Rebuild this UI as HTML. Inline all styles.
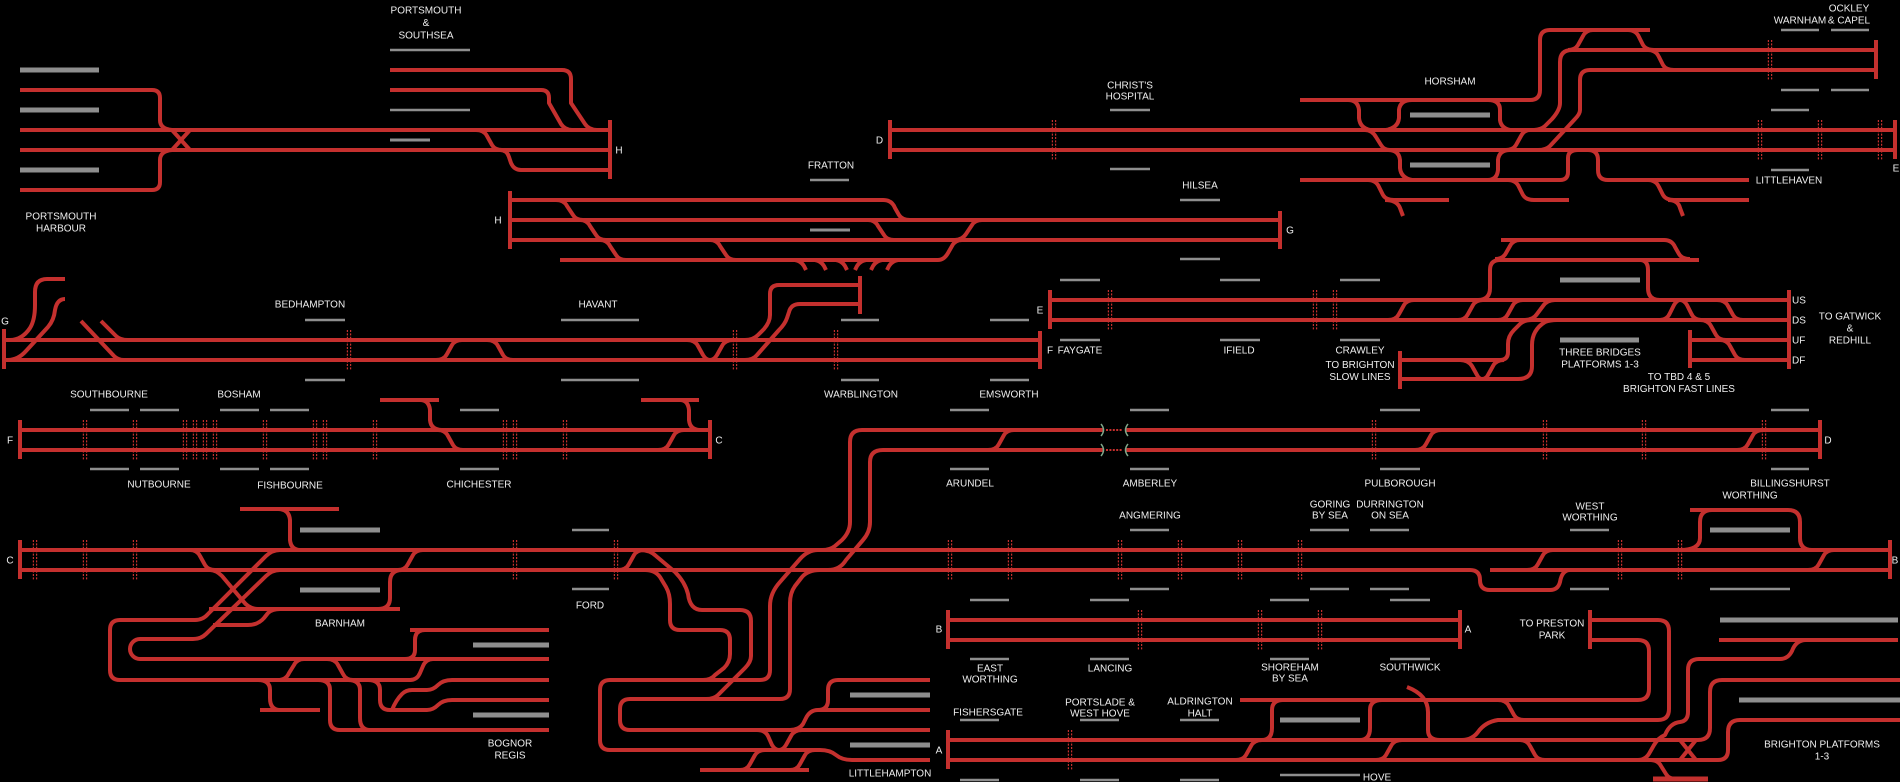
<!DOCTYPE html>
<html><head><meta charset="utf-8"><style>
html,body{margin:0;padding:0;background:#000;}
svg{display:block}
.r{fill:none;stroke:#c4302e;stroke-width:4;stroke-linejoin:round}
.g{fill:none;stroke:#8e8e8e;stroke-width:5}
.s{fill:none;stroke:#8e8e8e;stroke-width:2.5}
.w{fill:none;stroke:#8e8e8e;stroke-width:3}
.m{fill:none;stroke:#c4302e;stroke-width:1.2;stroke-dasharray:2 1.4}
.gr{fill:none;stroke:#7fa88a;stroke-width:1.5}
text{font-family:"Liberation Sans",sans-serif;font-size:10px;fill:#eee;text-anchor:middle}
.l{text-anchor:start}
</style></head><body>
<svg width="1900" height="782" viewBox="0 0 1900 782" xmlns="http://www.w3.org/2000/svg">
<rect width="1900" height="782" fill="#000"/>
<defs><path id="dm" class="m" d="M-1.6,0V40M1.6,0V40"/></defs>

<!-- ===== Portsmouth ===== -->
<path class="g" d="M20,70H99M20,110H99M20,170H99"/>
<path class="r" d="M20,90H152Q160,90 160,98V120Q160,129 172,130"/>
<path class="r" d="M20,130H610M20,150H610"/>
<path class="r" d="M20,190H152Q160,190 160,182V160Q160,151 172,150"/>
<path class="r" d="M172,130L190,150M172,150L190,130"/>
<path class="s" d="M390,50H470M390,110H470"/>
<path class="w" d="M390,140H430"/>
<path class="r" d="M390,70H562Q571,70 571,79V103L585,124Q589,130 597,130"/>
<path class="r" d="M390,90H541Q549,90 549,98V103L561,124Q565,130 572,130"/>
<path class="r" d="M476,130Q484,130 487,136L492,145Q495,150 502,150"/>
<path class="r" d="M500,150Q507,150 509,157L511,163Q514,170 521,170H610"/>
<path class="r" d="M610,120V179"/>
<text x="61" y="219.5">PORTSMOUTH</text><text x="61" y="231.5">HARBOUR</text>
<text x="426" y="13.5">PORTSMOUTH</text><text x="426" y="26">&amp;</text><text x="426" y="38.5">SOUTHSEA</text>
<text x="619" y="153.5">H</text>

<!-- ===== D section ===== -->
<path class="r" d="M890,120V159M890,130H1895M890,150H1895M1895,120V159"/>
<text x="879.5" y="143.5">D</text>
<text x="1896" y="171.5">E</text>
<use href="#dm" x="1054" y="120"/><use href="#dm" x="1760" y="120"/><use href="#dm" x="1820" y="120"/><use href="#dm" x="1880" y="120"/>
<path class="s" d="M1110,110H1150M1110,169H1150M1771,110H1809M1771,170H1809"/>
<text x="1130" y="88.5">CHRIST'S</text><text x="1130" y="99.5">HOSPITAL</text>
<text x="1789" y="183.5">LITTLEHAVEN</text>
<text x="831" y="168.5">FRATTON</text>
<path class="s" d="M810,180H849"/>

<!-- Horsham -->
<path class="r" d="M1300,100H1530Q1540,100 1540,90V40Q1540,30 1550,30H1650"/>
<path class="r" d="M1348,100Q1358,100 1359,110V118Q1360,128 1370,130"/>
<path class="r" d="M1412,100Q1400,100 1399,110V118Q1398,128 1386,130"/>
<path class="r" d="M1488,100Q1500,100 1500,110V120Q1501,128 1510,130"/>
<path class="g" d="M1410,115H1490M1410,165H1490"/>
<path class="r" d="M1365,130Q1372,130 1376,137L1381,145Q1384,150 1390,150"/>
<path class="r" d="M1388,150Q1399,150 1400,160V168Q1401,178 1412,180"/>
<path class="r" d="M1300,180H1560Q1568,180 1568,172V158Q1568,150 1578,150"/>
<path class="r" d="M1488,180Q1497,180 1498,170V160Q1499,150 1510,150"/>
<path class="r" d="M1588,150Q1598,150 1598,160V170Q1598,180 1608,180H1749"/>
<path class="r" d="M1368,180Q1376,180 1379,187L1383,195Q1386,200 1394,200H1449"/>
<path class="r" d="M1385,200Q1397,200 1400,208L1403,216"/>
<path class="r" d="M1508,180Q1516,180 1519,187L1523,195Q1526,200 1534,200H1569"/>
<path class="r" d="M1648,180Q1656,180 1659,187L1663,195Q1666,200 1674,200H1749"/>
<path class="r" d="M1668,200Q1678,200 1680,208L1683,216"/>
<path class="r" d="M1877,50H1572Q1560,50 1560,62V103Q1560,110 1552,119L1545,126Q1541,130 1532,130"/>
<path class="r" d="M1877,70H1590Q1580,70 1580,80V110Q1580,114 1575,119L1550,146Q1546,150 1538,150"/>
<path class="r" d="M1530,130Q1524,130 1521,136L1516,145Q1513,150 1506,150"/>
<path class="r" d="M1593,30Q1586,30 1583,36L1578,45Q1575,50 1568,50"/>
<path class="r" d="M1628,30Q1636,30 1639,37L1643,45Q1646,50 1654,50"/>
<path class="r" d="M1648,50Q1656,50 1659,57L1663,65Q1666,70 1674,70"/>
<path class="r" d="M1876,40V79"/>
<use href="#dm" x="1770" y="40"/>
<path class="s" d="M1781,30H1819M1831,30H1869M1781,90H1819M1831,90H1869"/>
<text x="1450" y="84.5">HORSHAM</text>
<text x="1800" y="23.5">WARNHAM</text><text x="1849" y="11.5">OCKLEY</text><text x="1849" y="23.5">&amp; CAPEL</text>

<!-- ===== H -> G section ===== -->
<path class="r" d="M510,191V249"/>
<text x="498" y="223.5">H</text>
<path class="r" d="M510,200H883Q892,200 895,208L899,215Q902,220 910,220"/>
<path class="r" d="M510,220H1280M510,240H1280M1280,211V249"/>
<path class="r" d="M560,260H938Q944,260 948,253L952,246Q955,240 962,240"/>
<path class="r" d="M955,240Q962,240 966,234L972,225Q975,220 982,220"/>
<path class="r" d="M556,200Q564,200 567,206L573,215Q576,220 583,220"/>
<path class="r" d="M580,220Q587,220 590,226L596,235Q599,240 606,240"/>
<path class="r" d="M600,240Q607,240 610,246L616,255Q619,260 626,260"/>
<path class="r" d="M710,240Q717,240 720,246L726,255Q729,260 736,260"/>
<path class="r" d="M868,220Q875,220 878,226L884,235Q887,240 894,240"/>
<path class="r" d="M795,260Q801,261 804,266L806,270M815,260Q821,261 824,266L826,270M836,260Q842,261 845,266L847,270M866,260Q860,261 857,266L855,270M882,260Q876,261 873,266L871,270M898,260Q892,261 889,266L887,270"/>
<path class="w" d="M810,230H850"/>
<text x="1290" y="233.5">G</text>
<text x="1200" y="188.5">HILSEA</text>
<path class="s" d="M1180,200H1220M1180,259H1220"/>

<!-- ===== G -> F section ===== -->
<path class="r" d="M4,329V369M4,340H1040M4,360H1040M1040,331V369"/>
<text x="5" y="324.5">G</text>
<text x="1050" y="353.5">F</text>
<path class="r" d="M10,340Q22,340 30,328Q35,320 35,305V292Q35,279 47,279H65"/>
<path class="r" d="M8,360Q18,360 26,351L48,327Q54,320 55,310Q57,299 65,299"/>
<path class="r" d="M81,321L98,339L114,356Q118,360 124,360"/>
<path class="r" d="M101,321L116,336Q120,340 128,340"/>
<path class="r" d="M436,360Q444,360 447,354L452,345Q455,340 462,340"/>
<path class="r" d="M487,340Q495,340 498,346L503,355Q506,360 513,360"/>
<path class="r" d="M687,340Q695,340 698,346L703,355Q706,360 710,360Q714,360 717,355L722,346Q725,340 733,340"/>
<path class="r" d="M860,285H779Q770,285 770,294V315Q770,322 764,329L758,335Q753,340 745,340"/>
<path class="r" d="M860,304H800Q791,304 789,312L787,318Q785,324 779,330L757,355Q753,360 745,360"/>
<path class="r" d="M860,276V314"/>
<use href="#dm" x="349" y="330"/><use href="#dm" x="735" y="330"/><use href="#dm" x="836" y="330"/>
<path class="s" d="M305,320H345M305,380H345M561,320H639M561,380H639M841,320H879M841,380H879M990,320H1029M990,380H1029"/>
<text x="310" y="307.5">BEDHAMPTON</text>
<text x="598" y="307.5">HAVANT</text>
<text x="861" y="397.5">WARBLINGTON</text>
<text x="1009" y="397.5">EMSWORTH</text>

<!-- ===== E section / Three Bridges ===== -->
<path class="r" d="M1050,290V329M1050,300H1789M1050,320H1789M1789,290V369"/>
<text x="1040" y="313.5">E</text>
<use href="#dm" x="1110" y="290"/><use href="#dm" x="1315" y="290"/><use href="#dm" x="1335" y="290"/>
<path class="s" d="M1060,280H1100M1220,280H1260M1340,280H1380M1060,340H1100M1220,340H1260M1340,340H1380"/>
<text x="1080" y="353.5">FAYGATE</text>
<text x="1239" y="353.5">IFIELD</text>
<text x="1360" y="353.5">CRAWLEY</text>
<text x="1360" y="368">TO BRIGHTON</text><text x="1360" y="380">SLOW LINES</text>
<path class="r" d="M1388,320Q1396,320 1399,314L1404,305Q1407,300 1414,300"/>
<path class="r" d="M1400,351V389"/>
<path class="r" d="M1400,360H1500Q1508,360 1508,352V344Q1508,336 1514,330L1520,324Q1524,320 1532,320"/>
<path class="r" d="M1400,379H1518Q1532,379 1532,366V345Q1532,330 1545,322Q1550,320 1557,320"/>
<path class="r" d="M1458,320Q1465,320 1468,314L1473,305Q1476,300 1483,300"/>
<path class="r" d="M1498,320Q1505,320 1508,314L1513,305Q1516,300 1523,300"/>
<path class="r" d="M1525,320Q1533,320 1537,314L1543,306Q1547,300 1555,300"/>
<path class="r" d="M1460,360Q1468,360 1472,366L1477,375Q1479,379 1482,379Q1486,379 1488,375L1493,366Q1496,360 1504,360"/>
<path class="r" d="M1660,320Q1667,320 1670,313L1674,305Q1677,300 1680,300Q1684,300 1687,305L1691,313Q1694,320 1701,320"/>
<path class="r" d="M1717,300Q1725,300 1728,306L1733,315Q1736,320 1743,320"/>
<path class="r" d="M1700,320Q1708,320 1711,326L1716,335Q1719,340 1726,340"/>
<path class="r" d="M1720,340Q1727,340 1730,346L1735,355Q1738,360 1745,360"/>
<path class="r" d="M1690,340H1789M1690,360H1789M1690,330V368"/>
<path class="r" d="M1501,240H1664Q1672,240 1675,247L1679,254Q1682,259 1690,259"/>
<path class="r" d="M1495,259Q1503,259 1506,253L1510,246Q1513,240 1520,240"/>
<path class="r" d="M1478,300Q1490,300 1490,288V270Q1490,260 1500,260H1699"/>
<path class="r" d="M1640,260Q1648,260 1648,270V288Q1648,300 1660,300"/>
<path class="g" d="M1560,280H1640M1560,340H1639"/>
<text class="l" x="1792" y="303.5">US</text>
<text class="l" x="1792" y="323.5">DS</text>
<text class="l" x="1792" y="343.5">UF</text>
<text class="l" x="1792" y="363.5">DF</text>
<text x="1850" y="319.5">TO GATWICK</text><text x="1850" y="331.5">&amp;</text><text x="1850" y="343.5">REDHILL</text>
<text x="1600" y="355.5">THREE BRIDGES</text><text x="1600" y="367.5">PLATFORMS 1-3</text>
<text x="1679" y="380">TO TBD 4 &amp; 5</text><text x="1679" y="392">BRIGHTON FAST LINES</text>

<!-- ===== F -> C section ===== -->
<path class="r" d="M20,420V459M20,430H710M20,450H710M710,420V459"/>
<text x="10" y="443.5">F</text>
<text x="719" y="443.5">C</text>
<use href="#dm" x="85" y="420"/><use href="#dm" x="135" y="420"/><use href="#dm" x="185" y="420"/><use href="#dm" x="195" y="420"/><use href="#dm" x="205" y="420"/><use href="#dm" x="215" y="420"/><use href="#dm" x="265" y="420"/><use href="#dm" x="315" y="420"/><use href="#dm" x="325" y="420"/><use href="#dm" x="375" y="420"/><use href="#dm" x="505" y="420"/><use href="#dm" x="515" y="420"/><use href="#dm" x="565" y="420"/>
<path class="s" d="M90,410H129M140,410H179M220,410H259M270,410H309M460,410H499M90,469H129M140,469H179M220,469H259M270,469H309M460,469H499"/>
<path class="r" d="M380,400H439M420,400Q429,400 430,410V420Q431,430 442,430"/>
<path class="r" d="M438,430Q445,430 448,436L453,445Q456,450 463,450"/>
<path class="r" d="M641,400H699M680,400Q688,400 689,410V420Q690,430 700,430"/>
<path class="r" d="M658,450Q666,450 669,444L674,435Q677,430 684,430"/>
<text x="109" y="397.5">SOUTHBOURNE</text>
<text x="239" y="397.5">BOSHAM</text>
<text x="159" y="487.5">NUTBOURNE</text>
<text x="290" y="488.5">FISHBOURNE</text>
<text x="479" y="487.5">CHICHESTER</text>

<!-- ===== Arundel D section ===== -->
<path class="r" d="M1104,430H862Q850,430 850,442V522Q850,532 842,540L835,546Q830,550 822,550"/>
<path class="r" d="M1104,450H883Q870,450 870,462V522Q870,532 863,540L846,560Q840,570 828,570"/>
<path class="r" d="M1125,430H1820M1125,450H1820M1820,420V459"/>
<path class="m" style="stroke-width:2" d="M1106,430H1123M1106,450H1123"/>
<path class="gr" d="M1101,424Q1106,430 1101,436M1101,444Q1106,450 1101,456M1128,424Q1123,430 1128,436M1128,444Q1123,450 1128,456"/>
<path class="r" d="M988,450Q996,450 999,444L1004,435Q1007,430 1014,430"/>
<path class="r" d="M1415,450Q1423,450 1426,444L1431,435Q1434,430 1441,430"/>
<path class="r" d="M1737,450Q1745,450 1748,444L1753,435Q1756,430 1763,430"/>
<use href="#dm" x="1374" y="420"/><use href="#dm" x="1545" y="420"/><use href="#dm" x="1644" y="420"/><use href="#dm" x="1764" y="420"/>
<path class="s" d="M950,410H989M1130,410H1169M1380,410H1420M1771,410H1809M950,469H989M1130,469H1169M1380,469H1420M1771,469H1809"/>
<text x="1828" y="443.5">D</text>
<text x="970" y="486.5">ARUNDEL</text>
<text x="1150" y="486.5">AMBERLEY</text>
<text x="1400" y="486.5">PULBOROUGH</text>
<text x="1790" y="486.5">BILLINGSHURST</text>
<text x="1750" y="498.5">WORTHING</text>
<text x="1150" y="518.5">ANGMERING</text>
<text x="1330" y="507.5">GORING</text><text x="1330" y="518.5">BY SEA</text>
<text x="1390" y="507.5">DURRINGTON</text><text x="1390" y="518.5">ON SEA</text>
<text x="1590" y="509.5">WEST</text><text x="1590" y="520.5">WORTHING</text>

<!-- ===== C -> B section ===== -->
<path class="r" d="M20,540V579M20,550H1890M1890,540V579"/>
<path class="r" d="M20,570H1470Q1480,570 1480,580Q1480,590 1490,590H1550Q1558,590 1560,582Q1562,570 1570,570"/>
<path class="r" d="M1490,570H1890"/>
<text x="10" y="563.5">C</text>
<text x="1895" y="563.5">B</text>
<use href="#dm" x="35" y="540"/><use href="#dm" x="85" y="540"/><use href="#dm" x="135" y="540"/><use href="#dm" x="515" y="540"/><use href="#dm" x="616" y="540"/><use href="#dm" x="950" y="540"/><use href="#dm" x="1010" y="540"/><use href="#dm" x="1120" y="540"/><use href="#dm" x="1180" y="540"/><use href="#dm" x="1240" y="540"/><use href="#dm" x="1300" y="540"/><use href="#dm" x="1620" y="540"/><use href="#dm" x="1680" y="540"/>
<path class="s" d="M1130,530H1169M1310,530H1349M1370,530H1409M1570,530H1609M1130,589H1169M1310,589H1349M1370,589H1409M1570,589H1609M572,530H609M572,589H609M1710,589H1790"/>
<path class="r" d="M1527,570Q1535,570 1538,564L1543,555Q1546,550 1553,550"/>
<path class="r" d="M1808,570Q1816,570 1819,564L1824,555Q1827,550 1834,550"/>
<path class="r" d="M1680,550Q1700,550 1700,538V522Q1700,510 1712,510H1788Q1800,510 1800,522V538Q1800,550 1812,550M1690,510H1712"/>
<path class="g" d="M1710,530H1790"/>

<!-- Barnham -->
<path class="r" d="M240,509H339M278,509Q289,509 290,520V540Q291,550 300,550"/>
<path class="g" d="M300,530H380M300,590H380"/>
<path class="r" d="M190,550Q197,550 200,556L205,565Q208,570 215,570"/>
<path class="r" d="M210,570Q216,570 222,576L243,601Q249,609 258,609"/>
<path class="r" d="M209,609H400"/>
<path class="r" d="M280,550Q272,550 266,556L208,614Q203,620 195,620H120Q110,620 110,630V670Q110,680 120,680H410Q417,680 420,673L423,666Q426,659 433,659"/>
<path class="r" d="M280,570Q272,570 266,576L206,634Q201,639 193,639H140A10,10 0 0 0 140,659H549"/>
<path class="r" d="M213,625H248Q258,625 264,618L268,613Q272,609 280,609"/>
<path class="r" d="M398,570Q405,570 408,564L413,555Q416,550 423,550"/>
<path class="r" d="M402,570Q390,570 390,582V598Q390,609 378,609"/>
<path class="r" d="M410,630H549M425,630Q415,630 415,640V650Q415,659 405,659"/>
<path class="r" d="M278,680Q286,680 289,673L294,665Q297,659 304,659"/>
<path class="r" d="M327,659Q335,659 338,665L343,674Q346,680 353,680"/>
<path class="r" d="M258,680Q270,680 270,690V698Q270,710 280,710M260,710H320"/>
<path class="r" d="M318,680Q330,680 330,690V720Q330,730 340,730H549"/>
<path class="r" d="M348,680Q360,680 360,690V718Q360,730 370,730"/>
<path class="r" d="M368,680Q380,680 380,690V700Q380,710 390,710H427Q433,710 438,705Q443,700 452,700H549"/>
<path class="r" d="M392,710Q396,700 402,694Q406,690 412,690H427Q433,690 438,685Q443,680 452,680H549"/>
<path class="g" d="M473,645H549M473,715H549"/>
<text x="340" y="626.5">BARNHAM</text>
<text x="510" y="746.5">BOGNOR</text><text x="510" y="758.5">REGIS</text>

<!-- Ford / Littlehampton -->
<path class="r" d="M618,570Q626,570 629,564L634,555Q637,550 644,550"/>
<path class="r" d="M640,550Q650,550 656,556L675,572Q685,582 688,594Q690,610 702,610H740Q751,610 751,621V656Q751,662 745,668L718,695Q714,699 706,699"/>
<path class="r" d="M645,570Q655,570 660,577L666,587Q670,594 670,604V620Q670,630 680,630H720Q730,630 730,640V654Q730,662 724,668L715,675Q711,680 703,680"/>
<path class="r" d="M818,550Q808,550 800,559L780,582Q770,593 770,606V670Q770,680 760,680H610Q600,680 600,690V740Q600,750 610,750H820Q830,750 836,755Q842,760 852,760H930"/>
<path class="r" d="M820,570Q808,570 802,577L795,586Q790,593 790,603V689Q790,699 780,699H630Q620,699 620,709V720Q620,730 630,730H930"/>
<path class="r" d="M930,680H838Q828,680 828,690V700Q828,710 818,710Q810,710 806,718L803,724Q799,730 790,730"/>
<path class="r" d="M818,710H930"/>
<path class="r" d="M757,730Q765,730 768,736L772,745Q775,750 779,750Q783,750 786,745L791,736Q794,730 802,730"/>
<path class="r" d="M700,770H809"/>
<path class="r" d="M740,770Q747,770 750,764L755,755Q758,750 765,750"/>
<path class="r" d="M790,770Q797,770 800,764L805,755Q808,750 815,750"/>
<path class="g" d="M850,695H930M850,745H930"/>
<text x="590" y="608.5">FORD</text>
<text x="890" y="776.5">LITTLEHAMPTON</text>

<!-- ===== B section ===== -->
<path class="r" d="M948,610V649M948,620H1460M948,640H1460M1460,610V649"/>
<text x="939" y="632.5">B</text>
<text x="1468" y="632.5">A</text>
<use href="#dm" x="1140" y="610"/><use href="#dm" x="1260" y="610"/><use href="#dm" x="1320" y="610"/>
<path class="s" d="M970,600H1009M1090,600H1129M1270,600H1309M1390,600H1430M970,659H1009M1090,659H1129M1270,659H1309M1390,659H1430"/>
<text x="990" y="671.5">EAST</text><text x="990" y="682.5">WORTHING</text>
<text x="1110" y="671.5">LANCING</text>
<text x="1290" y="670.5">SHOREHAM</text><text x="1290" y="681.5">BY SEA</text>
<text x="1410" y="670.5">SOUTHWICK</text>

<!-- ===== A section / Hove / Brighton ===== -->
<path class="r" d="M948,730V769"/>
<text x="939" y="753.5">A</text>
<path class="r" d="M948,740H1698Q1710,740 1710,728V692Q1710,680 1722,680H1900"/>
<path class="r" d="M948,760H1718Q1728,760 1728,750V732Q1728,720 1740,720H1900"/>
<use href="#dm" x="1070" y="730"/>
<path class="s" d="M960,720H999M1080,720H1119M1180,720H1219M960,780H999M1080,780H1119M1180,780H1219M1280,775H1360"/>
<text x="988" y="715.5">FISHERSGATE</text>
<text x="1100" y="705.5">PORTSLADE &amp;</text><text x="1100" y="716.5">WEST HOVE</text>
<text x="1200" y="704.5">ALDRINGTON</text><text x="1200" y="716.5">HALT</text>
<path class="r" d="M1240,700H1638Q1649,700 1649,689V651Q1649,640 1638,640H1590"/>
<path class="r" d="M1283,700Q1272,700 1272,710V728Q1272,740 1262,740"/>
<path class="r" d="M1382,700Q1370,700 1370,710V728Q1370,740 1360,740"/>
<path class="r" d="M1262,740Q1254,740 1251,746L1246,755Q1243,760 1236,760"/>
<path class="r" d="M1402,740Q1394,740 1391,746L1386,755Q1383,760 1376,760"/>
<path class="g" d="M1280,720H1360"/>
<text x="1377" y="780.5">HOVE</text>
<path class="r" d="M1407,687Q1428,695 1428,712V730Q1428,740 1440,740"/>
<path class="r" d="M1498,700Q1506,700 1509,706L1514,715Q1517,720 1524,720"/>
<path class="r" d="M1462,740Q1472,740 1478,732Q1485,722 1498,720H1658Q1669,720 1669,709V631Q1669,620 1658,620H1590"/>
<path class="r" d="M1590,610V649"/>
<text x="1552" y="626.5">TO PRESTON</text><text x="1552" y="638.5">PARK</text>
<path class="r" d="M1520,740Q1527,740 1530,746L1535,755Q1538,760 1545,760"/>
<path class="r" d="M1638,760Q1646,760 1650,752L1654,745Q1658,738 1665,735Q1670,723 1680,722Q1688,721 1688,712V670Q1688,659 1699,659H1780Q1788,659 1792,651Q1796,640 1806,640"/>
<path class="r" d="M1719,640H1898"/>
<path class="r" d="M1680,740L1696,760M1680,760L1696,740"/>
<path class="r" d="M1650,760Q1658,760 1661,766L1666,774Q1669,779 1676,779"/>
<path class="r" style="stroke-width:5" d="M1653,779H1708"/>
<path class="g" d="M1720,620H1898M1739,700H1900"/>
<text x="1822" y="747.5">BRIGHTON PLATFORMS</text><text x="1822" y="759.5">1-3</text>
</svg>
</body></html>
